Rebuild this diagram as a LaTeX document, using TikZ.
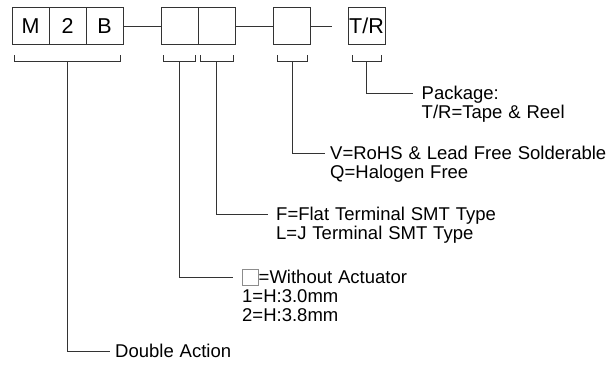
\documentclass[tikz,border=0pt]{standalone}
\usepackage{fontspec}
\setmainfont{Liberation Sans}[WordSpace=1.15]
\begin{document}
\begin{tikzpicture}[x=1pt,y=-1pt,
  ln/.style={draw=black!80,line width=0.9pt},
  cell/.style={ln,minimum width=37pt,minimum height=37pt,inner sep=0pt,font=\fontsize{21.5}{23}\selectfont},
  lab/.style={anchor=base west,inner sep=0pt,font=\fontsize{18.5}{19}\selectfont}]
\useasboundingbox (0,0) rectangle (610,365);
% code boxes
\node[cell] (m) at (30.5,26) {M};
\node[cell] (n2) at (67.5,26) {2};
\node[cell] (b) at (104.5,26) {B};
\node[cell] (c4) at (179.5,26) {};
\node[cell] (c5) at (216.5,26) {};
\node[cell] (c6) at (291.5,26) {};
\node[cell] (tr) at (366.5,26) {T/R};
\coordinate (dash) at (332,26);
\draw[ln] (b.east) -- (c4.west);
\draw[ln] (c5.east) -- (c6.west);
\draw[ln] (c6.east) -- (dash);
% brackets
\foreach \nm/\a/\bb/\s in {b1/14/120/67, b2/163/195/179, b3/200/233/216.5, b4/277/307/292, b5/352/381/366.5}{
  \draw[ln] (\a,55) -- (\a,61) -- (\bb,61) -- (\bb,55);
  \coordinate (\nm) at (\s,61);
}
% leader end points
\coordinate (e1) at (110,351);
\coordinate (e2) at (233,277);
\coordinate (e3) at (268,214);
\coordinate (e4) at (325,153);
\coordinate (e5) at (413,93);
\draw[ln] (b1) |- (e1);
\draw[ln] (b2) |- (e2);
\draw[ln] (b3) |- (e3);
\draw[ln] (b4) |- (e4);
\draw[ln] (b5) |- (e5);
% labels
\node[lab] (t1) at (115,357) {Double Action};
\node[draw=black!45,line width=0.7pt,minimum width=16pt,minimum height=16pt,inner sep=0pt] (sq) at (250,277) {};
\node[lab] (t2a) at (258.5,283) {=Without Actuator};
\node[lab] (t2b) at (242,302) {1=H:3.0mm};
\node[lab] (t2c) at (242,321) {2=H:3.8mm};
\node[lab] (t3a) at (276,220) {F=Flat Terminal SMT Type};
\node[lab] (t3b) at (276,239) {L=J Terminal SMT Type};
\node[lab] (t4a) at (330,159) {V=RoHS \& Lead Free Solderable};
\node[lab] (t4b) at (330,178) {Q=Halogen Free};
\node[lab] (t5a) at (421.5,99) {Package:};
\node[lab] (t5b) at (421.5,118) {T/R=Tape \& Reel};
\end{tikzpicture}
\end{document}
